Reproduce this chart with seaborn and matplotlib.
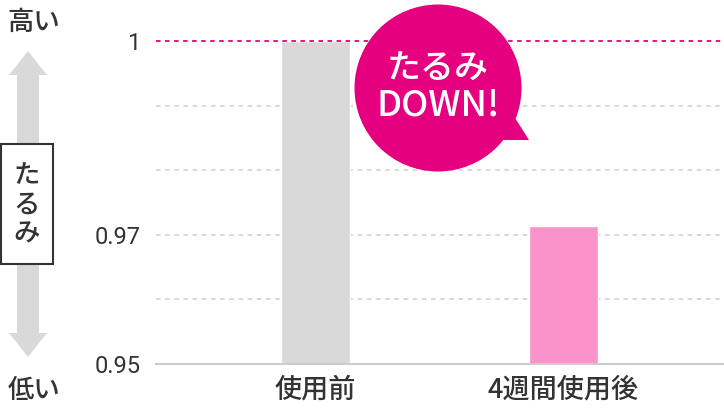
import matplotlib
matplotlib.use("Agg")
import matplotlib.pyplot as plt
import numpy as np
import pandas as pd
import seaborn as sns
from matplotlib.patches import Circle, Polygon, Rectangle

categories = ["使用前", "4週間使用後"]
values = [1.0, 0.9714]
bar_colors = ["#d9d9d9", "#f993c9"]
ytick_values = [0.95, 0.97, 1.0]
ytick_labels = ["0.95", "0.97", "1"]
grid_values = [0.96, 0.97, 0.98, 0.99]

MAGENTA = "#e4007f"
TEXT = "#333333"

sns.set_theme(style="white")
plt.rcParams["font.family"] = ["Roboto", "Noto Sans CJK JP", "DejaVu Sans"]

W, H = 724, 416
fig = plt.figure(figsize=(W / 100, H / 100), dpi=100)
fig.patch.set_facecolor("white")

# main bar axes, placed in pixel terms
left, right, top, bottom = 156, 724, 41, 364
ax = fig.add_axes([left / W, 1 - bottom / H, (right - left) / W, (bottom - top) / H])

df = pd.DataFrame({"cat": categories, "val": values})
sns.barplot(data=df, x="cat", y="val", hue="cat", palette=bar_colors,
            saturation=1, width=0.28, legend=False, ax=ax, zorder=2)

ax.set_ylim(0.95, 1.0)
ax.set_xlim(-0.643, 1.647)
for g in grid_values:
    ax.axhline(g, color="#cfcfcf", lw=1.1, ls=(0, (3, 3)), zorder=1)
ax.axhline(1.0, color=MAGENTA, lw=1.3, ls=(0, (2.5, 2.5)), zorder=3, clip_on=False)

for s in ["top", "right", "left"]:
    ax.spines[s].set_visible(False)
ax.spines["bottom"].set_color("#cccccc")
ax.spines["bottom"].set_linewidth(1.5)

ax.set_yticks(ytick_values)
ax.set_yticklabels(ytick_labels)
ax.tick_params(axis="y", length=0, pad=11, labelsize=17, labelcolor=TEXT)
ax.tick_params(axis="x", length=0, pad=9, labelcolor=TEXT)
for t in ax.get_xticklabels():
    t.set_fontsize(19.5)
    t.set_fontweight("medium")
    t.set_family(["Noto Sans CJK JP", "DejaVu Sans"])
ax.set_xlabel("")
ax.set_ylabel("")

# overlay in pixel coordinates for decorations
ov = fig.add_axes([0, 0, 1, 1], zorder=5)
ov.set_xlim(0, W)
ov.set_ylim(H, 0)
ov.axis("off")
ov.patch.set_alpha(0)

# double arrow on the left
arrow = Polygon([(28, 51), (47, 75), (39, 75), (39, 333), (47, 333), (28, 357),
                 (9, 333), (17, 333), (17, 75), (9, 75)],
                closed=True, facecolor="#d9d9d9", edgecolor="none")
ov.add_patch(arrow)
ov.add_patch(Rectangle((1, 144), 52, 120, facecolor="white", edgecolor=TEXT, lw=1.5))
ov.text(27, 205, "た\nる\nみ", ha="center", va="center", fontsize=19, color=TEXT,
        family=["Noto Sans CJK JP"], fontweight="medium", linespacing=1.1)
ov.text(34, 22, "高い", ha="center", va="center", fontsize=19, color=TEXT,
        family=["Noto Sans CJK JP"], fontweight="medium")
ov.text(34, 391, "低い", ha="center", va="center", fontsize=19, color=TEXT,
        family=["Noto Sans CJK JP"], fontweight="medium")

# speech bubble
ov.add_patch(Circle((438, 88), 83.5, facecolor=MAGENTA, edgecolor="none"))
ov.add_patch(Polygon([(500, 140), (515, 118), (529, 140)], closed=True,
                     facecolor=MAGENTA, edgecolor="none"))
ov.text(438, 69, "たるみ", ha="center", va="center", fontsize=24.5, color="white",
        family=["Noto Sans CJK JP"], fontweight="medium")
ov.text(438, 106, "DOWN!", ha="center", va="center", fontsize=26, color="white",
        family=["Noto Sans CJK JP"], fontweight="medium")

fig.savefig("out.png", dpi=100, facecolor="white")
